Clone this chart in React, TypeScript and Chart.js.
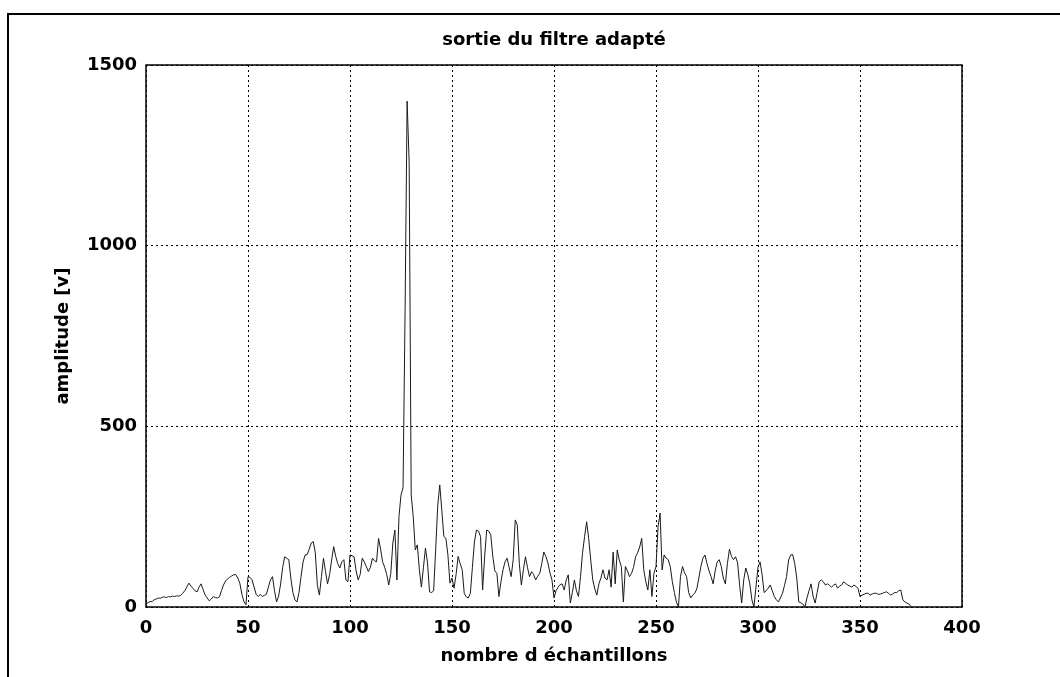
import React, { useEffect, useRef } from "react";
import { Chart, registerables } from "chart.js";

Chart.register(...registerables);

const chartTitle = "sortie du filtre adapté";
const xAxisLabel = "nombre d échantillons";
const yAxisLabel = "amplitude [v]";
const xTicks = [0, 50, 100, 150, 200, 250, 300, 350, 400];
const yTicks = [0, 500, 1000, 1500];

// amplitude of the matched-filter output, one value per sample (index = sample number)
const amplitude = [
  8, 12, 15, 15, 20, 22, 25, 24, 27, 28,
  26, 29, 28, 30, 29, 31, 30, 32, 38, 45,
  55, 66, 58, 52, 45, 42, 55, 64, 48, 33,
  25, 17, 22, 29, 26, 25, 28, 45, 61, 72,
  78, 82, 86, 89, 90, 80, 66, 35, 15, 6,
  84, 82, 75, 55, 35, 29, 35, 29, 32, 35,
  55, 75, 84, 45, 14, 30, 64, 110, 139, 135,
  131, 80, 40, 20, 14, 40, 84, 125, 144, 145,
  160, 177, 181, 150, 60, 33, 84, 135, 98, 64,
  90, 130, 167, 140, 120, 108, 125, 131, 75, 70,
  144, 142, 139, 100, 75, 90, 135, 125, 112, 98,
  110, 135, 128, 125, 190, 160, 125, 110, 90, 61,
  93, 177, 213, 75, 250, 310, 330, 820, 1400, 1230,
  310, 250, 158, 172, 103, 55, 110, 163, 122, 42,
  40, 45, 160, 280, 338, 268, 195, 190, 144, 66,
  80, 52, 90, 140, 120, 103, 38, 28, 25, 38,
  110, 180, 213, 210, 195, 47, 139, 213, 210, 200,
  140, 100, 93, 29, 70, 103, 125, 135, 110, 84,
  131, 241, 227, 120, 61, 103, 139, 110, 84, 98,
  90, 75, 85, 93, 120, 152, 140, 122, 95, 75,
  25, 45, 55, 62, 64, 47, 75, 89, 11, 40,
  75, 45, 29, 84, 150, 195, 236, 190, 130, 75,
  50, 33, 64, 80, 103, 80, 75, 103, 55, 152,
  64, 158, 130, 112, 14, 112, 100, 84, 93, 110,
  139, 150, 166, 190, 103, 70, 47, 103, 29, 93,
  112, 222, 260, 103, 144, 135, 131, 112, 70, 40,
  14, 0, 84, 112, 95, 84, 40, 25, 33, 38,
  50, 80, 112, 135, 144, 120, 100, 84, 64, 100,
  125, 131, 112, 80, 64, 120, 160, 140, 131, 139,
  122, 60, 11, 75, 108, 90, 64, 20, 0, 55,
  110, 125, 90, 40, 45, 52, 61, 45, 29, 20,
  14, 25, 38, 60, 84, 130, 144, 145, 120, 80,
  14, 12, 8, 0, 25, 45, 64, 30, 11, 40,
  70, 75, 70, 61, 64, 60, 55, 60, 64, 52,
  58, 61, 70, 65, 61, 58, 55, 61, 57, 52,
  29, 33, 35, 38, 38, 33, 36, 38, 38, 35,
  36, 38, 40, 42, 38, 33, 36, 40, 40, 45,
  47, 20, 14, 11, 8, 2,
];

const FONT = "'DejaVu Sans', 'Liberation Sans', Arial, sans-serif";
const TEXT_SIZE = 18;

const frameBox = {
  id: "frameBox",
  afterDraw(chart: any) {
    const { ctx, chartArea } = chart;
    ctx.save();
    ctx.strokeStyle = "#000";
    ctx.lineWidth = 1.5;
    ctx.strokeRect(chartArea.left, chartArea.top, chartArea.right - chartArea.left, chartArea.bottom - chartArea.top);
    ctx.restore();
  },
};

const plotTitle = {
  id: "plotTitle",
  afterDraw(chart: any) {
    const { ctx, chartArea } = chart;
    ctx.save();
    ctx.fillStyle = "#000";
    ctx.font = `bold ${TEXT_SIZE}px ${FONT}`;
    ctx.textAlign = "center";
    ctx.textBaseline = "middle";
    ctx.fillText(chartTitle, (chartArea.left + chartArea.right) / 2, 40);
    ctx.restore();
  },
};

export default function App() {
  const canvasRef = useRef<HTMLCanvasElement | null>(null);

  useEffect(() => {
    if (!canvasRef.current) return;
    const points = amplitude.map((v, i) => ({ x: i, y: v }));
    const chart = new Chart(canvasRef.current, {
      type: "line",
      data: {
        datasets: [
          {
            data: points,
            borderColor: "#1a1a1a",
            borderWidth: 1,
            pointRadius: 0,
            tension: 0,
            fill: false,
          },
        ],
      },
      options: {
        animation: false,
        responsive: false,
        maintainAspectRatio: false,
        layout: { padding: { left: 0, right: 98, top: 65, bottom: 0 } },
        plugins: {
          legend: { display: false },
          tooltip: { enabled: false },
          title: { display: false },
        },
        scales: {
          x: {
            type: "linear",
            min: xTicks[0],
            max: xTicks[xTicks.length - 1],
            afterBuildTicks: (scale: any) => {
              scale.ticks = xTicks.map((v) => ({ value: v }));
            },
            afterFit: (scale: any) => {
              scale.height = 70;
            },
            ticks: {
              color: "#000",
              font: { family: FONT, size: TEXT_SIZE, weight: "bold" },
              padding: 11,
              maxRotation: 0,
              autoSkip: false,
              callback: (v: any) => String(v),
            },
            grid: {
              color: "#000",
              lineWidth: 1,
              drawTicks: false,
            },
            border: { display: false, dash: [2, 3] },
            title: {
              display: true,
              text: xAxisLabel,
              color: "#000",
              font: { family: FONT, size: TEXT_SIZE, weight: "bold" },
              padding: { top: 0, bottom: 10 },
            },
          },
          y: {
            type: "linear",
            min: yTicks[0],
            max: yTicks[yTicks.length - 1],
            afterBuildTicks: (scale: any) => {
              scale.ticks = yTicks.map((v) => ({ value: v }));
            },
            afterFit: (scale: any) => {
              scale.width = 146;
            },
            ticks: {
              color: "#000",
              font: { family: FONT, size: TEXT_SIZE, weight: "bold" },
              padding: 9,
              autoSkip: false,
              callback: (v: any) => String(v),
            },
            grid: {
              color: "#000",
              lineWidth: 1,
              drawTicks: false,
            },
            border: { display: false, dash: [2, 3] },
            title: {
              display: true,
              text: yAxisLabel,
              color: "#000",
              font: { family: FONT, size: TEXT_SIZE, weight: "bold" },
              padding: { top: 53, bottom: 0 },
            },
          },
        },
      },
      plugins: [frameBox, plotTitle],
    } as any);
    return () => chart.destroy();
  }, []);

  return (
    <div style={{ position: "fixed", left: 0, top: 0, width: 1060, height: 677, background: "#fff" }}>
      <div style={{ position: "absolute", left: 7, top: 13, width: 1053, height: 0, borderTop: "2px solid #000" }} />
      <div style={{ position: "absolute", left: 7, top: 13, width: 0, height: 664, borderLeft: "2px solid #000" }} />
      <canvas ref={canvasRef} width={1060} height={677} style={{ position: "absolute", left: 0, top: 0 }} />
    </div>
  );
}
